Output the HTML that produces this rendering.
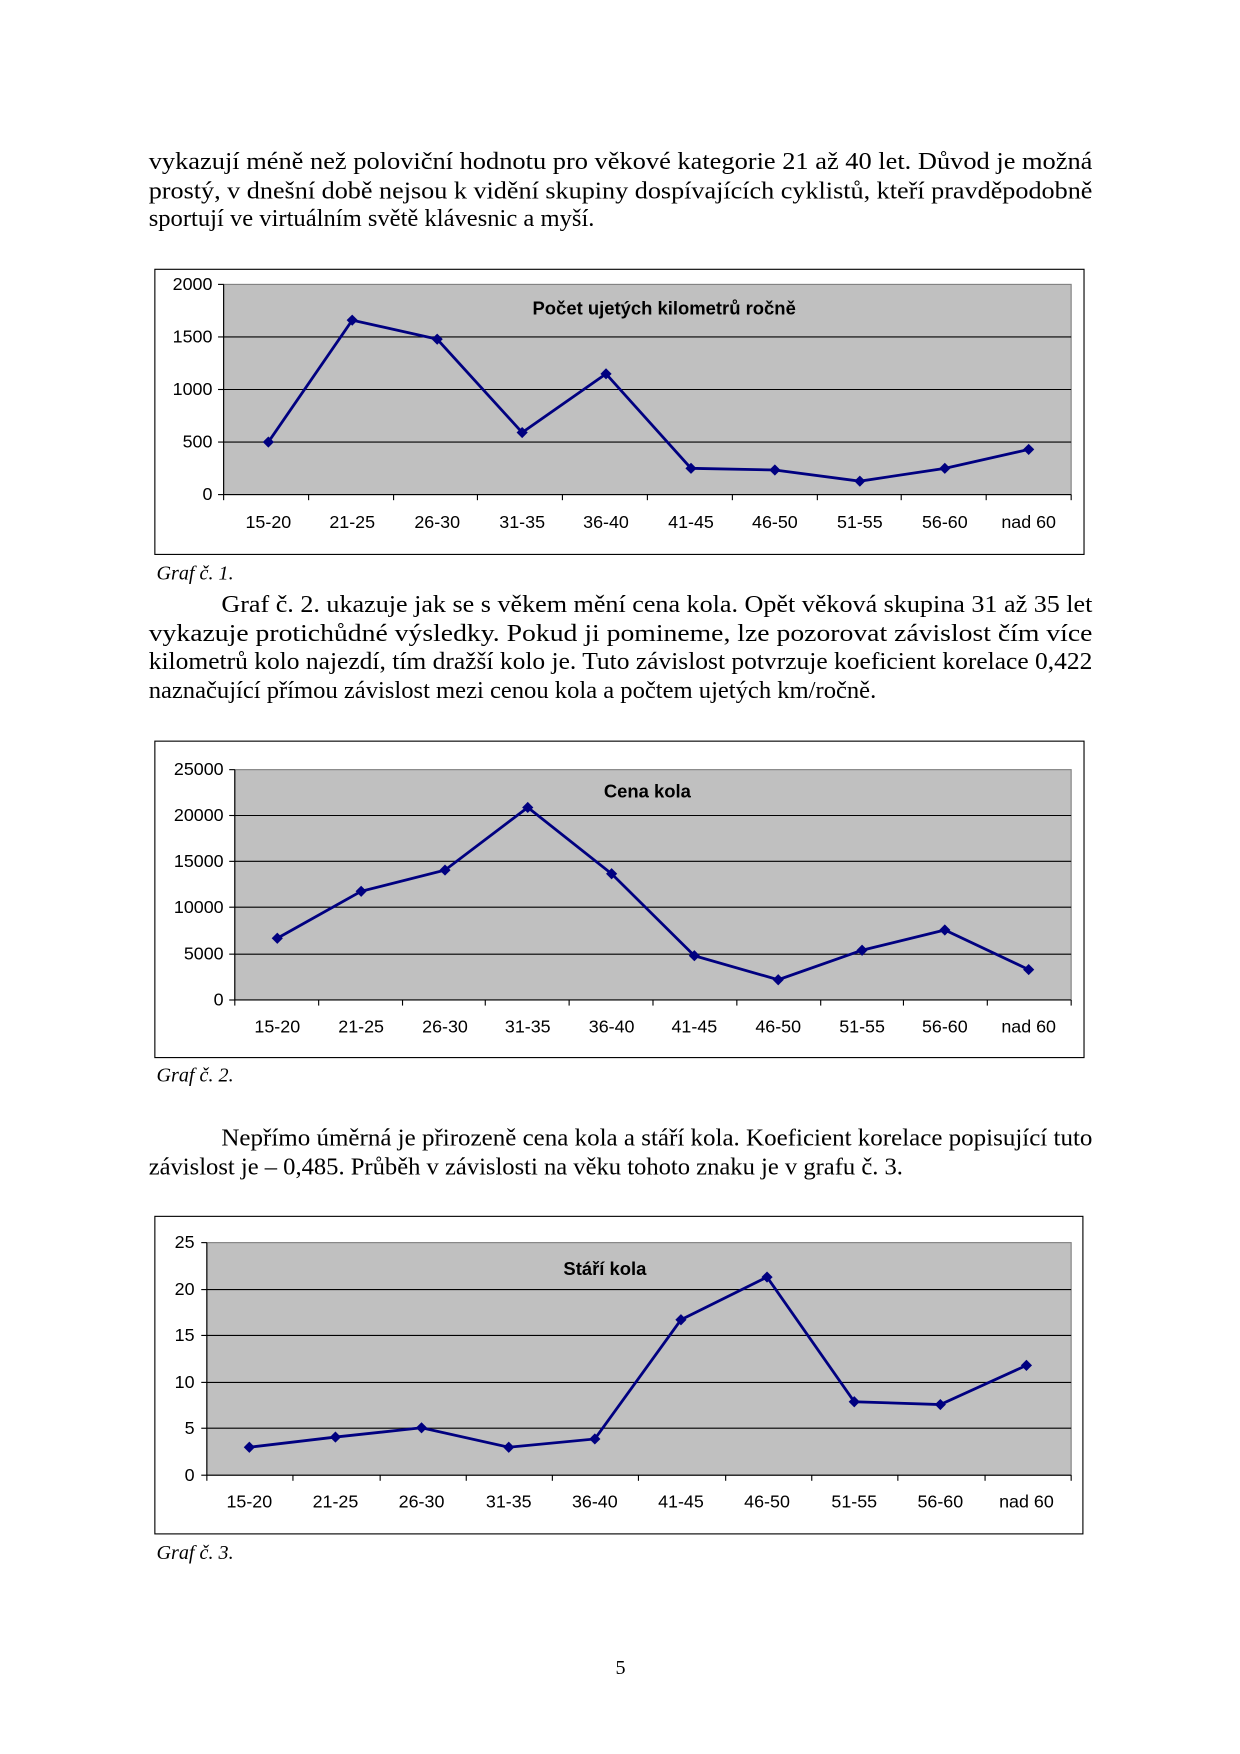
<!DOCTYPE html>
<html><head><meta charset="utf-8"><style>html,body{margin:0;padding:0;background:#fff}svg{display:block}</style></head><body>
<svg width="1240" height="1754" viewBox="0 0 1109 1568" xmlns="http://www.w3.org/2000/svg">
<rect width="1109" height="1568" fill="#fff"/>
<g font-family="Liberation Serif, serif" font-size="22" fill="#000">
<text x="133" y="151" textLength="844" lengthAdjust="spacingAndGlyphs">vykazují méně než poloviční hodnotu pro věkové kategorie 21 až 40 let. Důvod je možná</text>
<text x="133" y="177" textLength="844" lengthAdjust="spacingAndGlyphs">prostý, v dnešní době nejsou k vidění skupiny dospívajících cyklistů, kteří pravděpodobně</text>
<text x="133" y="202">sportují ve virtuálním světě klávesnic a myší.</text>
<text x="140" y="518" font-size="18" font-style="italic">Graf č. 1.</text>
<text x="198" y="547" textLength="779" lengthAdjust="spacingAndGlyphs">Graf č. 2. ukazuje jak se s věkem mění cena kola. Opět věková skupina 31 až 35 let</text>
<text x="133" y="573" textLength="844" lengthAdjust="spacingAndGlyphs">vykazuje protichůdné výsledky. Pokud ji pomineme, lze pozorovat závislost čím více</text>
<text x="133" y="598" textLength="844" lengthAdjust="spacingAndGlyphs">kilometrů kolo najezdí, tím dražší kolo je. Tuto závislost potvrzuje koeficient korelace 0,422</text>
<text x="133" y="624">naznačující přímou závislost mezi cenou kola a počtem ujetých km/ročně.</text>
<text x="140" y="967" font-size="18" font-style="italic">Graf č. 2.</text>
<text x="198" y="1024" textLength="779" lengthAdjust="spacingAndGlyphs">Nepřímo úměrná je přirozeně cena kola a stáří kola. Koeficient korelace popisující tuto</text>
<text x="133" y="1050">závislost je – 0,485. Průběh v závislosti na věku tohoto znaku je v grafu č. 3.</text>
<text x="140" y="1394" font-size="18" font-style="italic">Graf č. 3.</text>
<text x="555" y="1497" text-anchor="middle" font-size="18">5</text>
</g>

<!-- Chart 1 -->
<rect x="138.5" y="240.5" width="831" height="255" fill="#fff" stroke="#000"/>
<rect x="200" y="254" width="758" height="188" fill="#c0c0c0" stroke="#808080"/>
<g stroke="#000" stroke-width="1">
<line x1="200" y1="301" x2="958" y2="301"/><line x1="200" y1="348" x2="958" y2="348"/><line x1="200" y1="395" x2="958" y2="395"/>
<line x1="200" y1="254" x2="200" y2="442"/><line x1="200" y1="442" x2="958" y2="442"/>
<line x1="195" y1="254" x2="200" y2="254"/><line x1="195" y1="301" x2="200" y2="301"/><line x1="195" y1="348" x2="200" y2="348"/><line x1="195" y1="395" x2="200" y2="395"/><line x1="195" y1="442" x2="200" y2="442"/>
<line x1="200" y1="442" x2="200" y2="447"/><line x1="276" y1="442" x2="276" y2="447"/><line x1="352" y1="442" x2="352" y2="447"/><line x1="427" y1="442" x2="427" y2="447"/><line x1="503" y1="442" x2="503" y2="447"/><line x1="579" y1="442" x2="579" y2="447"/><line x1="655" y1="442" x2="655" y2="447"/><line x1="731" y1="442" x2="731" y2="447"/><line x1="806" y1="442" x2="806" y2="447"/><line x1="882" y1="442" x2="882" y2="447"/><line x1="958" y1="442" x2="958" y2="447"/>
</g>
<g font-family="Liberation Sans, sans-serif" font-size="16" fill="#000">
<g text-anchor="end"><text x="190" y="259">2000</text><text x="190" y="306">1500</text><text x="190" y="353">1000</text><text x="190" y="400">500</text><text x="190" y="447">0</text></g>
<g text-anchor="middle"><text x="240" y="472">15-20</text><text x="315" y="472">21-25</text><text x="391" y="472">26-30</text><text x="467" y="472">31-35</text><text x="542" y="472">36-40</text><text x="618" y="472">41-45</text><text x="693" y="472">46-50</text><text x="769" y="472">51-55</text><text x="845" y="472">56-60</text><text x="920" y="472">nad 60</text>
<text x="594" y="281" font-weight="bold" font-size="16.5">Počet ujetých kilometrů ročně</text></g>
</g>
<polyline fill="none" stroke="#000080" stroke-width="2.5" points="240,395 315,286 391,303 467,386.5 542,334 618,418.5 693,420 769,430 845,418.5 920,401.6"/>
<g fill="#000080">
<path d="M240 390l5 5-5 5-5-5z"/><path d="M315 281l5 5-5 5-5-5z"/><path d="M391 298l5 5-5 5-5-5z"/><path d="M467 381.5l5 5-5 5-5-5z"/><path d="M542 329l5 5-5 5-5-5z"/><path d="M618 413.5l5 5-5 5-5-5z"/><path d="M693 415l5 5-5 5-5-5z"/><path d="M769 425l5 5-5 5-5-5z"/><path d="M845 413.5l5 5-5 5-5-5z"/><path d="M920 396.6l5 5-5 5-5-5z"/>
</g>

<!-- Chart 2 -->
<rect x="138.5" y="662.5" width="831" height="283" fill="#fff" stroke="#000"/>
<rect x="210" y="688" width="748" height="206" fill="#c0c0c0" stroke="#808080"/>
<g stroke="#000" stroke-width="1">
<line x1="210" y1="729" x2="958" y2="729"/><line x1="210" y1="770" x2="958" y2="770"/><line x1="210" y1="811" x2="958" y2="811"/><line x1="210" y1="853" x2="958" y2="853"/>
<line x1="210" y1="688" x2="210" y2="894"/><line x1="210" y1="894" x2="958" y2="894"/>
<line x1="205" y1="688" x2="210" y2="688"/><line x1="205" y1="729" x2="210" y2="729"/><line x1="205" y1="770" x2="210" y2="770"/><line x1="205" y1="811" x2="210" y2="811"/><line x1="205" y1="853" x2="210" y2="853"/><line x1="205" y1="894" x2="210" y2="894"/>
<line x1="210" y1="894" x2="210" y2="899"/><line x1="285" y1="894" x2="285" y2="899"/><line x1="360" y1="894" x2="360" y2="899"/><line x1="434" y1="894" x2="434" y2="899"/><line x1="509" y1="894" x2="509" y2="899"/><line x1="584" y1="894" x2="584" y2="899"/><line x1="659" y1="894" x2="659" y2="899"/><line x1="734" y1="894" x2="734" y2="899"/><line x1="808" y1="894" x2="808" y2="899"/><line x1="883" y1="894" x2="883" y2="899"/><line x1="958" y1="894" x2="958" y2="899"/>
</g>
<g font-family="Liberation Sans, sans-serif" font-size="16" fill="#000">
<g text-anchor="end"><text x="200" y="693">25000</text><text x="200" y="734">20000</text><text x="200" y="775">15000</text><text x="200" y="816">10000</text><text x="200" y="858">5000</text><text x="200" y="899">0</text></g>
<g text-anchor="middle"><text x="248" y="923">15-20</text><text x="323" y="923">21-25</text><text x="398" y="923">26-30</text><text x="472" y="923">31-35</text><text x="547" y="923">36-40</text><text x="621" y="923">41-45</text><text x="696" y="923">46-50</text><text x="771" y="923">51-55</text><text x="845" y="923">56-60</text><text x="920" y="923">nad 60</text>
<text x="579" y="713" font-weight="bold" font-size="16.5">Cena kola</text></g>
</g>
<polyline fill="none" stroke="#000080" stroke-width="2.5" points="248,838.8 323,796.8 398,777.8 472,721.8 547,781.1 621,854.4 696,875.9 771,849.5 845,831.4 920,866.8"/>
<g fill="#000080">
<path d="M248 833.8l5 5-5 5-5-5z"/><path d="M323 791.8l5 5-5 5-5-5z"/><path d="M398 772.8l5 5-5 5-5-5z"/><path d="M472 716.8l5 5-5 5-5-5z"/><path d="M547 776.1l5 5-5 5-5-5z"/><path d="M621 849.4l5 5-5 5-5-5z"/><path d="M696 870.9l5 5-5 5-5-5z"/><path d="M771 844.5l5 5-5 5-5-5z"/><path d="M845 826.4l5 5-5 5-5-5z"/><path d="M920 861.8l5 5-5 5-5-5z"/>
</g>

<!-- Chart 3 -->
<rect x="138.5" y="1087.5" width="830" height="284" fill="#fff" stroke="#000"/>
<rect x="185" y="1111" width="773" height="208" fill="#c0c0c0" stroke="#808080"/>
<g stroke="#000" stroke-width="1">
<line x1="185" y1="1153" x2="958" y2="1153"/><line x1="185" y1="1194" x2="958" y2="1194"/><line x1="185" y1="1236" x2="958" y2="1236"/><line x1="185" y1="1277" x2="958" y2="1277"/>
<line x1="185" y1="1111" x2="185" y2="1319"/><line x1="185" y1="1319" x2="958" y2="1319"/>
<line x1="180" y1="1111" x2="185" y2="1111"/><line x1="180" y1="1153" x2="185" y2="1153"/><line x1="180" y1="1194" x2="185" y2="1194"/><line x1="180" y1="1236" x2="185" y2="1236"/><line x1="180" y1="1277" x2="185" y2="1277"/><line x1="180" y1="1319" x2="185" y2="1319"/>
<line x1="185" y1="1319" x2="185" y2="1324"/><line x1="262" y1="1319" x2="262" y2="1324"/><line x1="340" y1="1319" x2="340" y2="1324"/><line x1="417" y1="1319" x2="417" y2="1324"/><line x1="494" y1="1319" x2="494" y2="1324"/><line x1="571" y1="1319" x2="571" y2="1324"/><line x1="649" y1="1319" x2="649" y2="1324"/><line x1="726" y1="1319" x2="726" y2="1324"/><line x1="803" y1="1319" x2="803" y2="1324"/><line x1="881" y1="1319" x2="881" y2="1324"/><line x1="958" y1="1319" x2="958" y2="1324"/>
</g>
<g font-family="Liberation Sans, sans-serif" font-size="16" fill="#000">
<g text-anchor="end"><text x="174" y="1116">25</text><text x="174" y="1158">20</text><text x="174" y="1199">15</text><text x="174" y="1241">10</text><text x="174" y="1282">5</text><text x="174" y="1324">0</text></g>
<g text-anchor="middle"><text x="223" y="1348">15-20</text><text x="300" y="1348">21-25</text><text x="377" y="1348">26-30</text><text x="455" y="1348">31-35</text><text x="532" y="1348">36-40</text><text x="609" y="1348">41-45</text><text x="686" y="1348">46-50</text><text x="764" y="1348">51-55</text><text x="841" y="1348">56-60</text><text x="918" y="1348">nad 60</text>
<text x="541" y="1140" font-weight="bold" font-size="16.5">Stáří kola</text></g>
</g>
<polyline fill="none" stroke="#000080" stroke-width="2.5" points="223,1294 300,1284.9 377,1276.6 455,1294 532,1286.6 609,1180 686,1141.8 764,1253.3 841,1255.8 918,1220.8"/>
<g fill="#000080">
<path d="M223 1289l5 5-5 5-5-5z"/><path d="M300 1279.9l5 5-5 5-5-5z"/><path d="M377 1271.6l5 5-5 5-5-5z"/><path d="M455 1289l5 5-5 5-5-5z"/><path d="M532 1281.6l5 5-5 5-5-5z"/><path d="M609 1175l5 5-5 5-5-5z"/><path d="M686 1136.8l5 5-5 5-5-5z"/><path d="M764 1248.3l5 5-5 5-5-5z"/><path d="M841 1250.8l5 5-5 5-5-5z"/><path d="M918 1215.8l5 5-5 5-5-5z"/>
</g>
</svg>
</body></html>
